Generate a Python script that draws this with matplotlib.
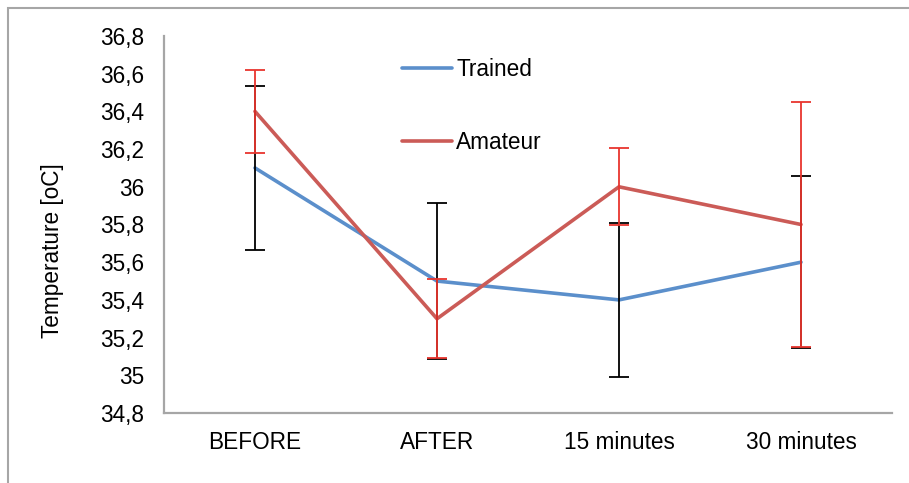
import matplotlib
matplotlib.use("Agg")
import matplotlib.pyplot as plt
from matplotlib.patches import Rectangle
from matplotlib.ticker import FuncFormatter

plt.rcParams['font.family'] = ['Liberation Sans', 'DejaVu Sans']

categories = ["BEFORE", "AFTER", "15 minutes", "30 minutes"]
trained = [36.1, 35.5, 35.4, 35.6]
trained_err = [0.435, 0.415, 0.41, 0.455]
amateur = [36.4, 35.3, 36.0, 35.8]
amateur_err = [0.22, 0.21, 0.205, 0.65]
y_ticks = [34.8, 35.0, 35.2, 35.4, 35.6, 35.8, 36.0, 36.2, 36.4, 36.6, 36.8]

FS = 16.3

fig = plt.figure(figsize=(9.09, 4.83), dpi=100)
ax = fig.add_axes([0.1804, 0.1449, 0.8009, 0.7806])

x = list(range(len(categories)))
blue = "#5B8FCB"
red = "#CB5B57"

l1, = ax.plot(x, trained, color=blue, lw=2.6, label="Trained", zorder=3,
              solid_capstyle="round")
l2, = ax.plot(x, amateur, color=red, lw=2.6, label="Amateur", zorder=3,
              solid_capstyle="round")
ax.errorbar(x, trained, yerr=trained_err, fmt="none", ecolor="black",
            elinewidth=1.3, capsize=7, capthick=1.3, zorder=4)
ax.errorbar(x, amateur, yerr=amateur_err, fmt="none", ecolor="#E8352E",
            elinewidth=1.3, capsize=7, capthick=1.3, zorder=4)

ax.set_xlim(-0.5, 3.5)
ax.set_ylim(34.8, 36.8)
ax.set_yticks(y_ticks)
ax.yaxis.set_major_formatter(FuncFormatter(
    lambda v, p: (f"{v:.1f}".rstrip("0").rstrip(".")).replace(".", ",")))
ax.set_xticks(x)
ax.set_xticklabels(categories)
ax.tick_params(axis="both", length=0, labelsize=FS, colors="black")
ax.tick_params(axis="y", pad=14)
ax.tick_params(axis="x", pad=13)

for side in ("top", "right"):
    ax.spines[side].set_visible(False)
for side in ("left", "bottom"):
    ax.spines[side].set_color("#A6A6A6")
    ax.spines[side].set_linewidth(1.6)

ax.set_ylabel("Temperature [oC]", fontsize=FS)
ax.yaxis.set_label_coords(-0.138, 0.432)

fig.legend(handles=[l1, l2], loc="upper left",
           bbox_to_anchor=(393 / 909, 1 - 49 / 483), frameon=False,
           fontsize=FS, handlelength=2.2, handletextpad=0.2,
           labelspacing=2.2, borderaxespad=0)

fig.patches.append(Rectangle((8 / 909, -0.05), 1.1, 1 - 8 / 483 + 0.05,
                             transform=fig.transFigure, fill=False,
                             edgecolor="#A6A6A6", lw=1.5))

fig.savefig("out.png", dpi=100)
